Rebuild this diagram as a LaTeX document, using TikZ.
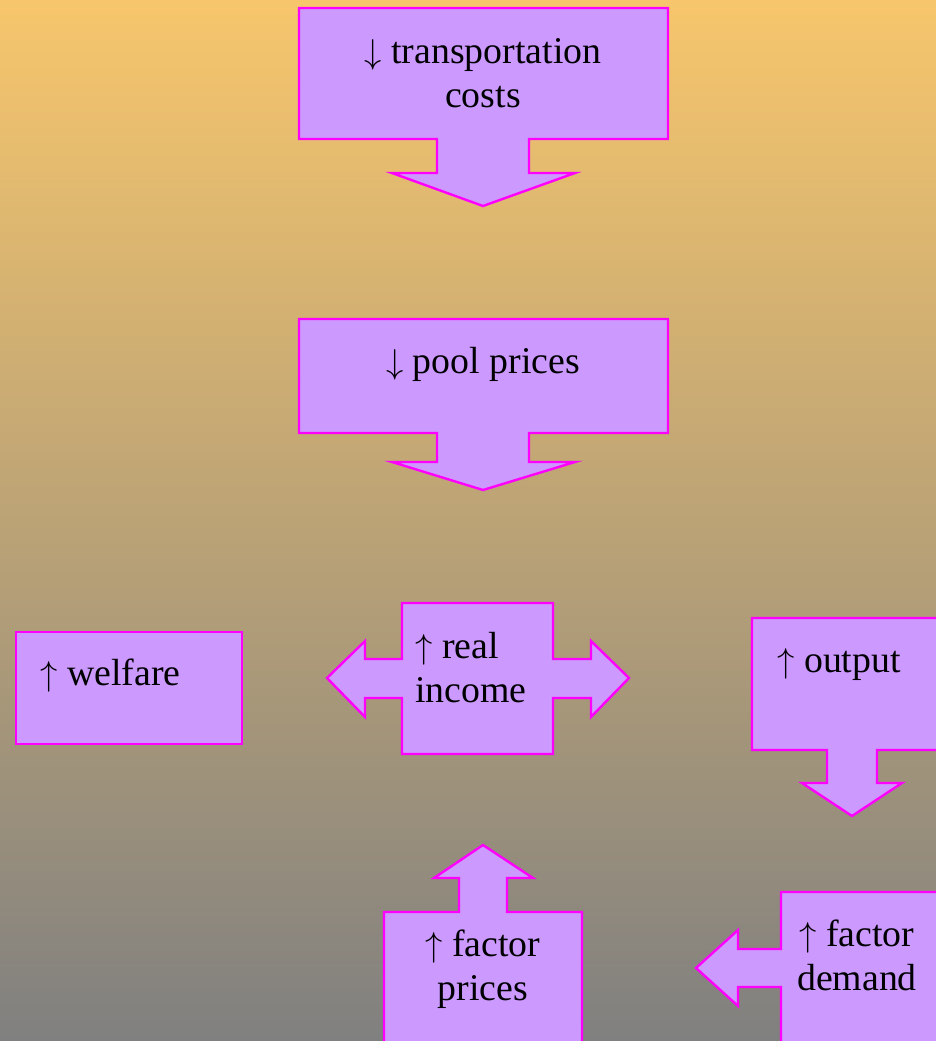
\documentclass[tikz,border=0pt]{standalone}
\usepackage{fontspec}
\setmainfont{Liberation Serif}
\definecolor{bgtop}{HTML}{F7C66C}
\definecolor{bgbot}{HTML}{808080}
\definecolor{boxfill}{HTML}{CC99FF}
\definecolor{boxline}{HTML}{FF00FF}
\newcommand{\upar}{$\uparrow$}
\newcommand{\dnar}{$\downarrow$}
\begin{document}
\begin{tikzpicture}[x=0.5pt,y=-0.5pt,
  callout/.style={fill=boxfill,draw=boxline,line width=1.2pt,line join=miter},
  lbl/.style={inner sep=0pt,font=\fontsize{18.9}{22}\selectfont,text=black},
  lblc/.style={lbl,align=center,anchor=base},
  lbll/.style={lbl,align=left,anchor=base west}]
\useasboundingbox (0,0) rectangle (936,1041);
\clip (0,0) rectangle (936,1041);
\shade[top color=bgtop,bottom color=bgbot] (0,0) rectangle (936,1041);
% transportation costs
\draw[callout] (299,8)--(668,8)--(668,139)--(529,139)--(529,173)--(575,173)--(483,206)--(392,173)--(437,173)--(437,139)--(299,139)--cycle;
\node[lblc] (trans) at (483,107) {\dnar\ transportation\\costs};
% pool prices
\draw[callout] (299,319)--(668,319)--(668,433)--(529,433)--(529,462)--(575,462)--(483,490)--(392,462)--(437,462)--(437,433)--(299,433)--cycle;
\node[lblc] (pool) at (483,373) {\dnar\ pool prices};
% real income
\draw[callout] (402,603)--(553,603)--(553,659)--(591,659)--(591,641)--(629,678)--(591,717)--(591,698)--(553,698)--(553,754)--(402,754)--(402,698)--(365,698)--(365,717)--(327,678)--(365,641)--(365,659)--(402,659)--cycle;
\node[lbll] (income) at (415,702) {\upar\ real\\income};
% welfare
\draw[callout] (16,632) rectangle (242,744);
\node[lbll] (welfare) at (40,685) {\upar\ welfare};
% output
\draw[callout] (752,618)--(950,618)--(950,750)--(877,750)--(877,783)--(902,783)--(852,816)--(802,783)--(827,783)--(827,750)--(752,750)--cycle;
\node[lbll] (output) at (777,672) {\upar\ output};
% factor prices
\draw[callout] (384,1060)--(384,912)--(459,912)--(459,878)--(434,878)--(483,845)--(533,878)--(507,878)--(507,912)--(582,912)--(582,1060)--cycle;
\node[lblc] (fprices) at (483,1000) {\upar\ factor\\prices};
% factor demand
\draw[callout] (781,892)--(950,892)--(950,1060)--(781,1060)--(781,987)--(738,987)--(738,1006)--(696,968)--(738,930)--(738,949)--(781,949)--cycle;
\node[lblc] (fdemand) at (857,990) {\upar\ factor\\demand};
\end{tikzpicture}
\end{document}
